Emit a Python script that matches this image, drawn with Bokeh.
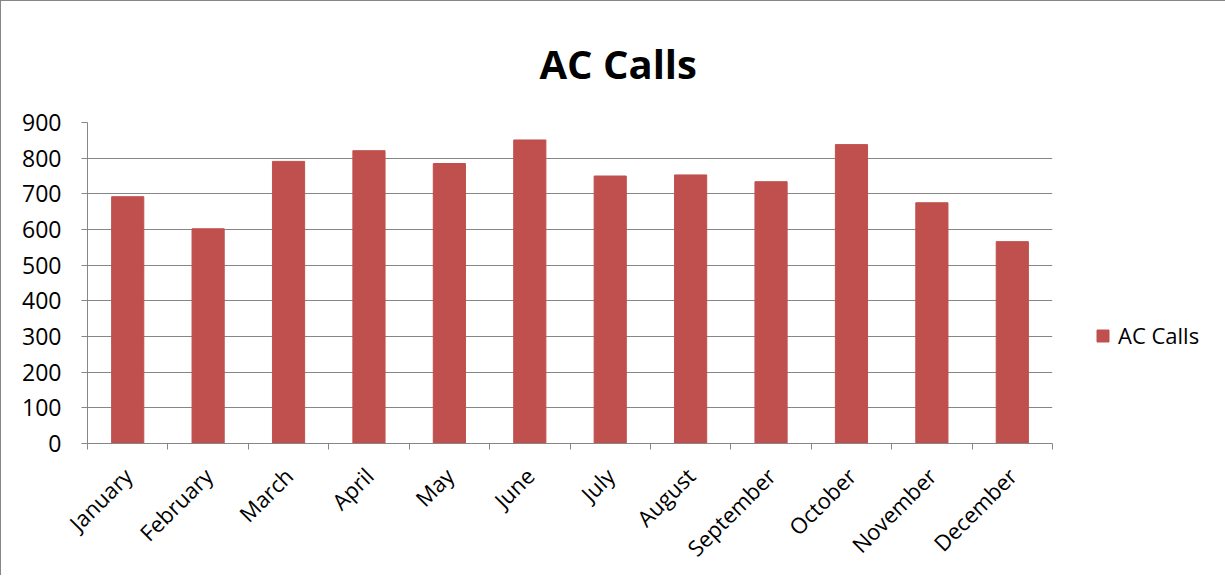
import math
from bokeh.plotting import figure
from bokeh.models import Range1d, FixedTicker, Legend, LegendItem, ColumnDataSource
from bokeh.embed import file_html
from bokeh.resources import INLINE

months = ["January", "February", "March", "April", "May", "June", "July",
          "August", "September", "October", "November", "December"]
calls = [692, 602, 791, 821, 785, 851, 750, 753, 734, 838, 675, 566]
y_ticks = [0, 100, 200, 300, 400, 500, 600, 700, 800, 900]
series_name = "AC Calls"
chart_title = "AC Calls"

BAR = "#C0504D"
GRID = "#868686"
FONT = "Open Sans"

centers = [i + 0.5 for i in range(len(months))]
bounds = list(range(len(months) + 1))
src = ColumnDataSource(dict(x=centers, top=calls, month=months))

p = figure(frame_width=965, frame_height=321,
           x_range=Range1d(0, len(months)), y_range=Range1d(0, 900),
           output_backend="svg", toolbar_location=None,
           min_border_left=86, min_border_right=166,
           min_border_top=121, min_border_bottom=130)
p.styles = {"border-left": "1px solid #868686", "border-top": "1px solid #868686",
            "border-right": "1px solid #868686"}
p.outline_line_color = None
p.background_fill_color = "white"
p.border_fill_color = "white"

r = p.vbar(x="x", top="top", width=0.4, bottom=0, source=src,
           fill_color=BAR, line_color=BAR)

# title
p.title.text = chart_title
p.title.align = "left"
p.title.vertical_align = "middle"
p.title.text_font = FONT
p.title.text_font_size = "40px"
p.title.text_font_style = "bold"
p.title.text_color = "black"
p.title.offset = 452
p.title.standoff = 62

# x axis
xa = p.xaxis[0]
xa.ticker = FixedTicker(ticks=centers, minor_ticks=bounds)
xa.major_label_overrides = {c: m for c, m in zip(centers, months)}
xa.major_label_orientation = math.pi / 4
xa.major_tick_out = 0
xa.major_tick_in = 0
xa.minor_tick_out = 6
xa.minor_tick_in = 0
xa.minor_tick_line_color = GRID
xa.minor_tick_line_width = 1
xa.axis_line_color = GRID
xa.major_label_text_font = FONT
xa.major_label_text_font_size = "22px"
xa.major_label_text_color = "black"
xa.major_label_standoff = 22

# y axis
ya = p.yaxis[0]
ya.ticker = FixedTicker(ticks=y_ticks)
ya.major_tick_out = 6
ya.major_tick_in = 0
ya.minor_tick_line_color = None
ya.major_tick_line_color = GRID
ya.axis_line_color = GRID
ya.major_label_text_font = FONT
ya.major_label_text_font_size = "23px"
ya.major_label_text_color = "black"
ya.major_label_standoff = 20

p.xgrid.grid_line_color = None
p.ygrid.grid_line_color = GRID
p.ygrid.grid_line_width = 1
p.ygrid.ticker = FixedTicker(ticks=y_ticks)

legend = Legend(items=[LegendItem(label=series_name, renderers=[r])],
                location=(43, 93), padding=0, margin=0,
                border_line_alpha=0, background_fill_alpha=0,
                glyph_width=15, glyph_height=15, label_height=15,
                label_standoff=8, label_text_font=FONT,
                label_text_font_size="22px", label_text_color="black")
p.add_layout(legend, "right")

open("out.html", "w").write(file_html(p, INLINE))
